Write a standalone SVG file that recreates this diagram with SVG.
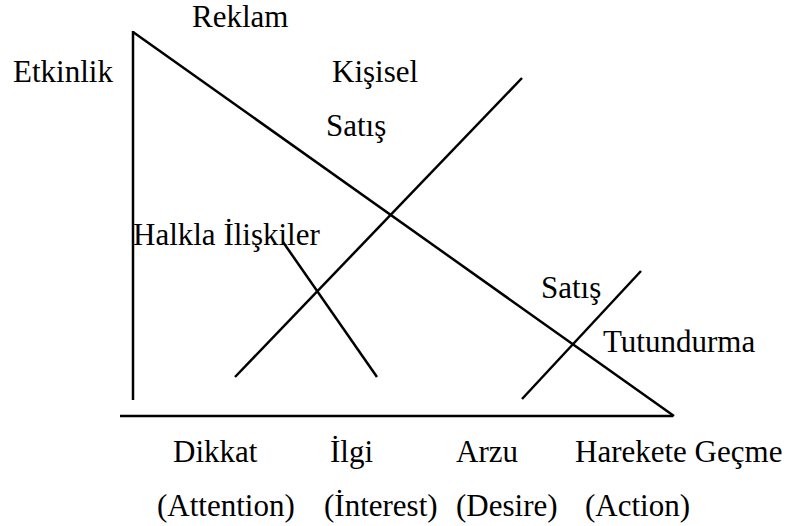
<svg xmlns="http://www.w3.org/2000/svg" width="793" height="526" viewBox="0 0 793 526">
<style>
.c line{stroke:#000;stroke-width:2.5;fill:none}
text{font-size:31px;fill:#000}
</style>
<rect width="793" height="526" fill="#fff"/>
<g id="connectors" class="c">
<line x1="133" y1="31" x2="133" y2="400"/>
<line x1="120" y1="416" x2="673" y2="416"/>
<line x1="133" y1="32" x2="674" y2="416"/>
<line x1="235" y1="377" x2="522" y2="78"/>
<line x1="283" y1="242" x2="377" y2="377"/>
<line x1="522" y1="399" x2="641" y2="271"/>
</g>
<g font-family="Times New Roman, Liberation Serif, serif">
<g id="reklam"><text x="192" y="27">Reklam</text></g>
<g id="etkinlik"><text x="13" y="82">Etkinlik</text></g>
<g id="kisisel-satis"><text x="332" y="82">Kişisel</text><text x="326" y="136">Satış</text></g>
<g id="halkla"><text x="133" y="245">Halkla İlişkiler</text></g>
<g id="satis-tutundurma"><text x="541" y="298">Satış</text><text x="603" y="352">Tutundurma</text></g>
<g id="dikkat"><text x="173" y="462">Dikkat</text><text x="157" y="516">(Attention)</text></g>
<g id="ilgi"><text x="330" y="462">İlgi</text><text x="324" y="516">(İnterest)</text></g>
<g id="arzu"><text x="456" y="462">Arzu</text><text x="456" y="516">(Desire)</text></g>
<g id="harekete"><text x="575" y="462">Harekete Geçme</text><text x="585" y="516">(Action)</text></g>
</g>
</svg>
